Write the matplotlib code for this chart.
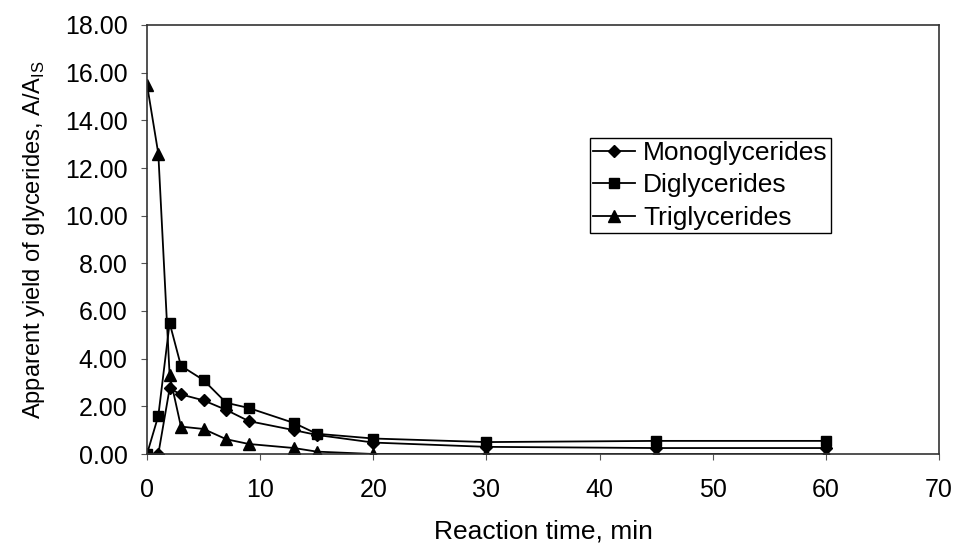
import matplotlib
matplotlib.use("Agg")
import matplotlib.pyplot as plt

time_min = [0, 1, 2, 3, 5, 7, 9, 13, 15, 20, 30, 45, 60]
mono = [0.0, 0.0, 2.75, 2.5, 2.25, 1.85, 1.38, 1.0, 0.8, 0.48, 0.3, 0.25, 0.25]
di = [0.0, 1.6, 5.5, 3.7, 3.1, 2.15, 1.93, 1.3, 0.85, 0.65, 0.5, 0.55, 0.55]
tri = [15.5, 12.6, 3.3, 1.15, 1.05, 0.62, 0.42, 0.25, 0.1, 0.0, 0.0, 0.0, 0.0]

x_ticks = [0, 10, 20, 30, 40, 50, 60, 70]
y_ticks = [0, 2, 4, 6, 8, 10, 12, 14, 16, 18]

plt.rcParams['font.family'] = ['Liberation Sans', 'DejaVu Sans']

fig = plt.figure(figsize=(9.57, 5.45), dpi=100)
ax = fig.add_axes([147/957, 1-454/545, 792/957, 429/545])

lw = 1.3
ax.plot(time_min, mono, color='black', lw=lw, marker='D', ms=6.5, label='Monoglycerides')
ax.plot(time_min, di, color='black', lw=lw, marker='s', ms=7.5, label='Diglycerides')
ax.plot(time_min, tri, color='black', lw=lw, marker='^', ms=8, label='Triglycerides')

ax.set_xlim(0, 70)
ax.set_ylim(0, 18)
ax.set_xticks(x_ticks)
ax.set_yticks(y_ticks)
ax.set_yticklabels([f"{v:.2f}" for v in y_ticks])
ax.tick_params(axis='both', direction='out', length=4, width=0.8, labelsize=18, color='#555555')
ax.tick_params(axis='x', pad=13)
ax.tick_params(axis='y', pad=10)
for s in ax.spines.values():
    s.set_linewidth(1.2)
    s.set_color('#333333')

ax.set_xlabel('Reaction time, min', fontsize=19)
ax.set_ylabel(r'Apparent yield of glycerides, A/A$_{\mathregular{IS}}$', fontsize=17)
ax.xaxis.set_label_coords(0.5, -0.152)
ax.yaxis.set_label_coords(-0.126, 0.5)

leg = ax.legend(loc='upper left', bbox_to_anchor=(0.559, 0.737), fontsize=19,
                frameon=True, fancybox=False, edgecolor='black', framealpha=1,
                handlelength=1.6, handletextpad=0.3, borderpad=0.12, labelspacing=0.32,
                borderaxespad=0)
leg.get_frame().set_linewidth(1.0)

fig.savefig('out.png', dpi=100)
